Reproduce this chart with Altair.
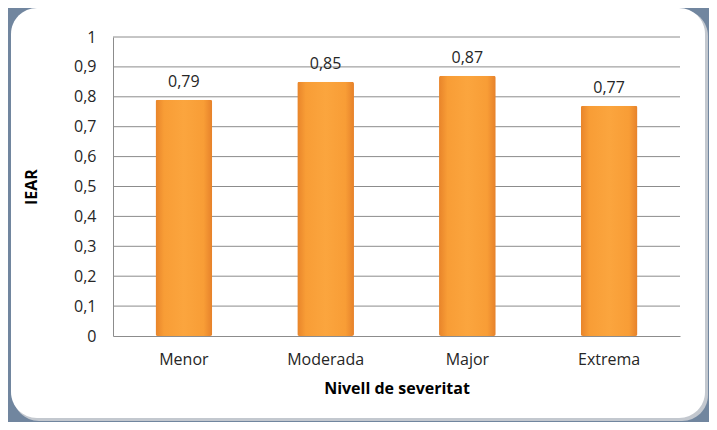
import altair as alt
import pandas as pd

categories = ["Menor", "Moderada", "Major", "Extrema"]
values = [0.79, 0.85, 0.87, 0.77]
grid_values = [0.1, 0.2, 0.3, 0.4, 0.5, 0.6, 0.7, 0.8, 0.9, 1.0]

df = pd.DataFrame({"cat": categories, "v": values})
grid_df = pd.DataFrame({"g": grid_values})
one = pd.DataFrame({"a": [0]})

FONT = "Open Sans"
W, H = 567, 299

yscale = alt.Scale(domain=[0, 1], nice=False)
xscale = alt.Scale(paddingInner=0.6, paddingOuter=0.3)

yaxis = alt.Axis(
    title="IEAR",
    values=[0] + grid_values,
    labelExpr="replace(toString(round(datum.value*10)/10), '.', ',')",
    labelOverlap=False,
    grid=False,
    ticks=False,
    labelPadding=17,
    titlePadding=34,
    domainColor="#8c8c8c",
    zindex=1,
)
xaxis = alt.Axis(
    title="Nivell de severitat",
    labelAngle=0,
    ticks=False,
    labelPadding=15,
    titlePadding=13,
    domainColor="#8c8c8c",
    zindex=1,
)

shadow = alt.Chart(one).mark_rect(color="#c3c8cf", cornerRadius=26).encode(
    x=alt.value(-100), x2=alt.value(595), y=alt.value(-27), y2=alt.value(384)
)
panel = alt.Chart(one).mark_rect(color="#ffffff", cornerRadius=26).encode(
    x=alt.value(-102), x2=alt.value(592), y=alt.value(-29), y2=alt.value(381)
)

grid = alt.Chart(grid_df).mark_rule(color="#8c8c8c", strokeWidth=1).encode(
    y=alt.Y("g:Q", scale=yscale, axis=yaxis, title="IEAR"),
    x=alt.value(0),
    x2=alt.value(W),
)

grad = alt.LinearGradient(
    gradient="linear",
    stops=[
        alt.GradientStop(color="#e8842a", offset=0),
        alt.GradientStop(color="#f89d36", offset=0.15),
        alt.GradientStop(color="#fba53e", offset=0.5),
        alt.GradientStop(color="#f89d36", offset=0.85),
        alt.GradientStop(color="#e6812a", offset=1),
    ],
    x1=0, x2=1, y1=0, y2=0,
)

bars = alt.Chart(df).mark_bar(color=grad, cornerRadius=2).encode(
    x=alt.X("cat:N", sort=categories, scale=xscale, axis=xaxis, title="Nivell de severitat"),
    y=alt.Y("v:Q", scale=yscale, axis=yaxis, title="IEAR"),
)

text = alt.Chart(df).transform_calculate(
    lab="replace(format(datum.v, '.2f'), '.', ',')"
).mark_text(
    baseline="bottom", dy=-10, font=FONT, fontSize=16, color="#262626"
).encode(
    x=alt.X("cat:N", sort=categories, scale=xscale, axis=xaxis, title="Nivell de severitat"),
    y=alt.Y("v:Q", scale=yscale, axis=yaxis, title="IEAR"),
    text="lab:N",
)

chart = (
    alt.layer(shadow, panel, grid, bars, text)
    .properties(
        width=W,
        height=H,
        background="#71869f",
        padding={"left": 105, "top": 29, "right": 29, "bottom": 86},
        autosize=alt.AutoSizeParams(type="none"),
    )
    .configure_view(stroke=None)
    .configure_axis(
        labelFont=FONT,
        titleFont=FONT,
        labelFontSize=16,
        titleFontSize=16,
        labelColor="#262626",
        titleColor="#000000",
        titleFontWeight="bold",
    )
)

chart.save("out.html", embed_options={"renderer": "svg", "actions": False})
